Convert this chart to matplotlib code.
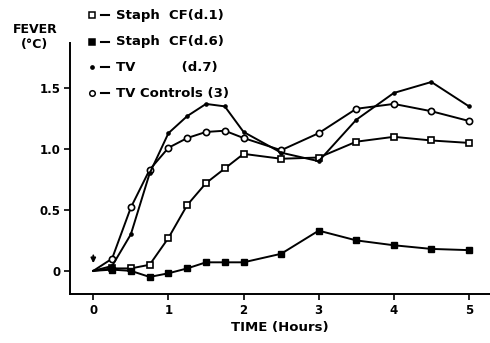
import matplotlib.pyplot as plt

# time points (hours)
hours = [0, 0.25, 0.5, 0.75, 1.0, 1.25, 1.5, 1.75, 2.0, 2.5, 3.0, 3.5, 4.0, 4.5, 5.0]

# fever (deg C)
staph_d1 = [0, 0.02, 0.02, 0.05, 0.27, 0.54, 0.72, 0.84, 0.96, 0.92, 0.93, 1.06, 1.10, 1.07, 1.05]
staph_d6 = [0, 0.01, 0.0, -0.05, -0.02, 0.02, 0.07, 0.07, 0.07, 0.14, 0.33, 0.25, 0.21, 0.18, 0.17]
tv_d7 = [0, 0.04, 0.30, 0.80, 1.13, 1.27, 1.37, 1.35, 1.14, 0.97, 0.90, 1.24, 1.46, 1.55, 1.35]
tv_controls = [0, 0.10, 0.52, 0.83, 1.01, 1.09, 1.14, 1.15, 1.09, 0.99, 1.13, 1.33, 1.37, 1.31, 1.23]

legend_marks = ["s", "s", ".", "o"]
legend_fill = ["white", "black", "black", "white"]
legend_labels = ["Staph  CF(d.1)", "Staph  CF(d.6)", "TV          (d.7)", "TV Controls (3)"]

yticks = [0, 0.5, 1.0, 1.5]
ytick_labels = ["0", "0.5", "1.0", "1.5"]
xticks = [0, 1, 2, 3, 4, 5]

fig = plt.figure(figsize=(4.9, 3.43), dpi=100)
ax = fig.add_axes([70 / 490, 1 - 294 / 343, 420 / 490, 251 / 343])

lw = 1.4
# no marker at the common starting point (time 0)
mev = list(range(1, len(hours)))
ax.plot(hours, staph_d1, color="black", lw=lw, marker="s", ms=4, mfc="white", mec="black",
        mew=1.2, markevery=mev, zorder=3)
ax.plot(hours, staph_d6, color="black", lw=lw, marker="s", ms=4, mfc="black", mec="black",
        markevery=mev, zorder=3)
ax.plot(hours, tv_d7, color="black", lw=lw, marker="o", ms=2.3, mfc="black", mec="black",
        markevery=mev, zorder=4)
ax.plot(hours, tv_controls, color="black", lw=lw, marker="o", ms=4.5, mfc="white", mec="black",
        mew=1.2, markevery=mev, zorder=3)

# injection arrow at time 0
ax.annotate("", xy=(0, 0.04), xytext=(0, 0.15),
            arrowprops=dict(arrowstyle="-|>", color="black", lw=1.3, mutation_scale=7))

ax.set_xlim(-0.31, 5.28)
ax.set_ylim(-0.19, 1.87)
ax.set_xticks(xticks)
ax.set_xticklabels([str(t) for t in xticks], fontweight="bold", fontsize=8.5)
ax.set_yticks(yticks)
ax.set_yticklabels(ytick_labels, fontweight="bold", fontsize=8.5)
ax.tick_params(direction="out", length=4, width=1.2, pad=3)
ax.spines["top"].set_visible(False)
ax.spines["right"].set_visible(False)
for s in ["left", "bottom"]:
    ax.spines[s].set_linewidth(1.4)
ax.set_xlabel("TIME (Hours)", fontweight="bold", fontsize=9.5, labelpad=3)

fig.text(35 / 490, 1 - 37 / 343, "FEVER\n(°C)", ha="center", va="center",
         fontweight="bold", fontsize=9, linespacing=1.15)

# hand-drawn style legend
row_y = [15, 42, 67, 93]
for mk, fc, lab, py in zip(legend_marks, legend_fill, legend_labels, row_y):
    yf = 1 - py / 343
    ms = 2.3 if mk == "." else 4
    ax.plot([92 / 490], [yf], transform=fig.transFigure, marker="o" if mk == "." else mk,
            ms=ms, mfc=fc, mec="black", mew=1.1, clip_on=False, color="black")
    ax.plot([101 / 490, 109 / 490], [yf, yf], transform=fig.transFigure, color="black",
            lw=1.5, clip_on=False)
    fig.text(116 / 490, yf, lab, ha="left", va="center", fontweight="bold", fontsize=9.5)

fig.savefig("out.png", dpi=100)
